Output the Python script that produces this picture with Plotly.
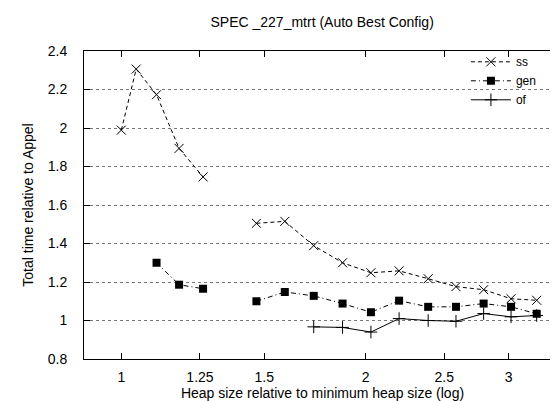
import plotly.graph_objects as go

heap_x = [1.0, 1.043, 1.105, 1.178, 1.261, 1.362, 1.467, 1.590, 1.726, 1.873,
          2.030, 2.199, 2.388, 2.584, 2.795, 3.021, 3.249]
ss = [1.989, 2.306, 2.173, 1.894, 1.746, None, 1.505, 1.515, 1.389, 1.300,
      1.248, 1.258, 1.217, 1.176, 1.160, 1.113, 1.105]
gen = [None, None, 1.300, 1.186, 1.165, None, 1.100, 1.148, 1.128, 1.088,
       1.043, 1.103, 1.071, 1.071, 1.088, 1.071, 1.035]
of = [None, None, None, None, None, None, None, None, 0.967, 0.964,
      0.940, 1.010, 1.000, 0.996, 1.036, 1.019, 1.026]

x_ticks = [1, 1.25, 1.5, 2, 2.5, 3]
x_tick_text = ["1", "1.25", "1.5", "2", "2.5", "3"]
y_ticks = [0.8, 1.0, 1.2, 1.4, 1.6, 1.8, 2.0, 2.2, 2.4]
y_tick_text = ["0.8", "1", "1.2", "1.4", "1.6", "1.8", "2", "2.2", "2.4"]

FONT = "Liberation Sans, Arial, sans-serif"

fig = go.Figure()
fig.add_trace(go.Scatter(
    x=heap_x, y=ss, name="ss", mode="lines+markers",
    line=dict(color="black", width=1, dash="4px,3px"),
    marker=dict(symbol="x-thin-open", size=9, color="black",
                line=dict(color="black", width=1)),
    connectgaps=False))
fig.add_trace(go.Scatter(
    x=heap_x, y=gen, name="gen", mode="lines+markers",
    line=dict(color="black", width=1, dash="5px,3px,1px,3px"),
    marker=dict(symbol="square", size=8, color="black"),
    connectgaps=False))
fig.add_trace(go.Scatter(
    x=heap_x, y=of, name="of", mode="lines+markers",
    line=dict(color="black", width=1),
    marker=dict(symbol="cross-thin-open", size=9, color="black",
                line=dict(color="black", width=1)),
    connectgaps=False))

fig.update_layout(
    width=558, height=401,
    margin=dict(l=76, r=5, t=43, b=50),
    paper_bgcolor="white", plot_bgcolor="white",
    font=dict(family=FONT, size=14, color="black"),
    title=dict(text="SPEC _227_mtrt (Auto Best Config)", x=0.563, xanchor="center",
               y=0.965, yanchor="middle", yref="container",
               font=dict(family=FONT, size=14, color="black")),
    showlegend=True,
    legend=dict(x=0.96, xanchor="right", y=1.012, yanchor="top",
                bgcolor="rgba(0,0,0,0)", font=dict(size=12),
                itemwidth=40, tracegroupgap=0),
)
fig.update_xaxes(
    type="log", range=[-0.046, 0.5417],
    tickvals=x_ticks, ticktext=x_tick_text,
    ticks="inside", ticklen=6, tickcolor="black", tickwidth=1,
    showline=True, linecolor="black", linewidth=1, mirror="ticks",
    showgrid=False, zeroline=False, ticklabelstandoff=5,
    tickfont=dict(size=14),
    title=dict(text="Heap size relative to minimum heap size (log)", standoff=0,
               font=dict(size=14)),
)
fig.update_yaxes(
    range=[0.8, 2.4], tickvals=y_ticks, ticktext=y_tick_text,
    ticks="inside", ticklen=6, tickcolor="black", tickwidth=1,
    showline=True, linecolor="black", linewidth=1, mirror="ticks",
    showgrid=True, gridcolor="#777", gridwidth=1, griddash="dot",
    zeroline=False, ticklabelstandoff=13,
    tickfont=dict(size=14),
    title=dict(text="Total time relative to Appel", standoff=10, font=dict(size=14)),
)

fig.write_html("out.html")
